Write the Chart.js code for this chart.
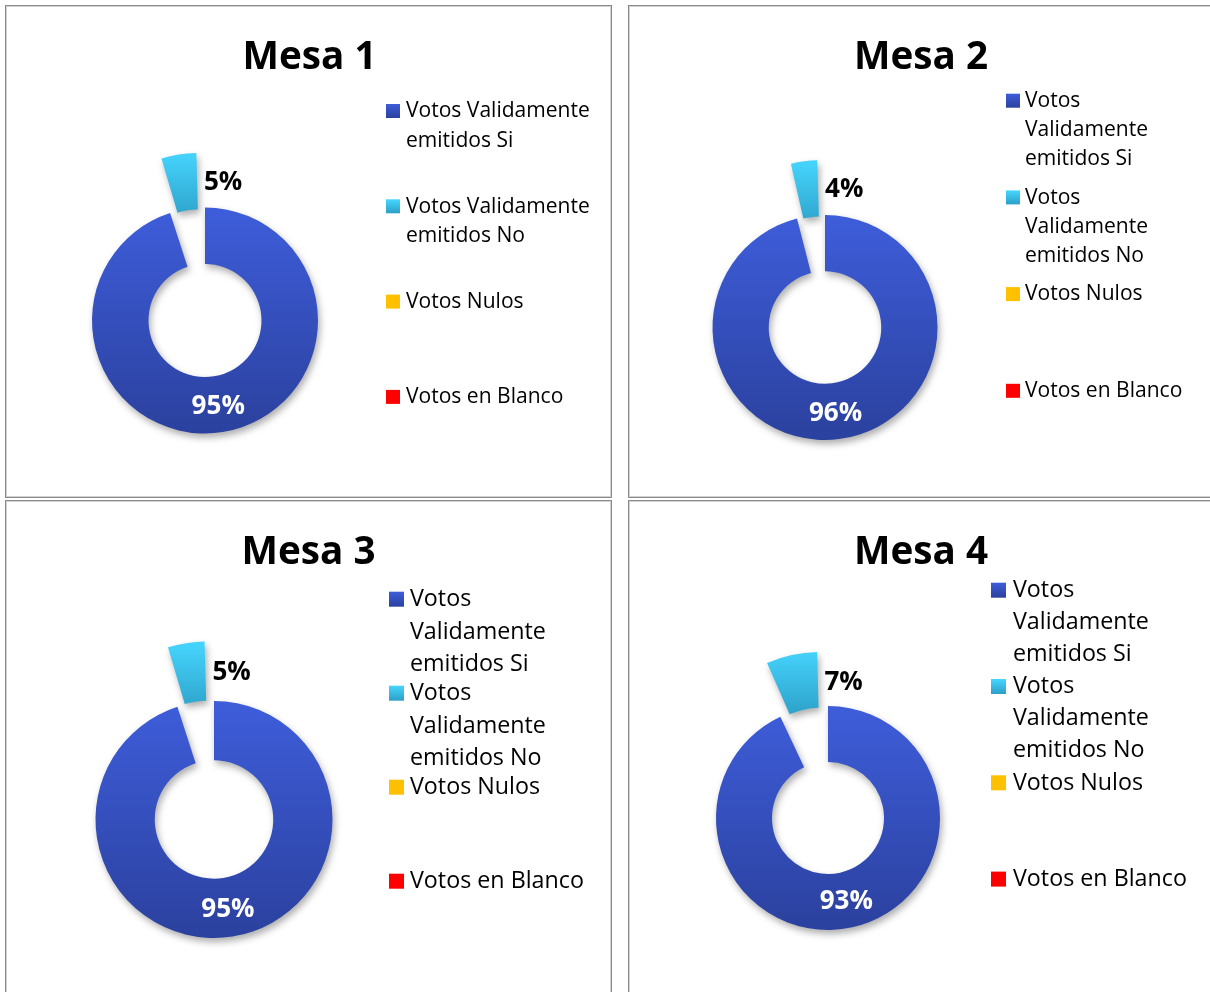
<!DOCTYPE html>
<html><head><meta charset="utf-8">
<script src="https://cdn.jsdelivr.net/npm/chart.js@4.4.1/dist/chart.umd.min.js"></script>
<style>
html,body{margin:0;padding:0;background:#fff;overflow:hidden}
#page{position:relative;width:1210px;height:992px;overflow:hidden;background:#fff}
.panel{position:absolute;box-sizing:border-box;border:1px solid #8a8a8a;box-shadow:inset 0 0 0 1px #d2d2d2;background:#fff}
canvas{position:absolute}
</style></head><body><div id="page"></div>
<script>
// ---- data ----
const categories = ['Votos Validamente emitidos Si', 'Votos Validamente emitidos No', 'Votos Nulos', 'Votos en Blanco'];
const titles = ['Mesa 1', 'Mesa 2', 'Mesa 3', 'Mesa 4'];
const mesa1 = [95, 5, 0, 0];
const mesa2 = [96, 4, 0, 0];
const mesa3 = [95, 5, 0, 0];
const mesa4 = [93, 7, 0, 0];
const seriesValues = [mesa1, mesa2, mesa3, mesa4];
const explodedIndex = 1;

// ---- styling / layout (page coordinates) ----
const FONT = "'Open Sans', 'Noto Sans', sans-serif";
const sliceColors = [
  ['#3E5DDA', '#2B419E'],
  ['#46D6FF', '#2C9FC7'],
  ['#FFC000', '#FFC000'],
  ['#FF0000', '#FF0000']
];
const panels = [
  {box: [5, 5, 607, 493], cx: 205, cy: 320.5, R: 113, D: 55, title: [309.5, 54.5],
   lg: {textX: 406, base: 117.3, step: 95.3, lh: 29.3, wrap: 200, fitW: 123, mk: 14, mkGap: 20}},
  {box: [628, 5, 600, 493], cx: 825, cy: 327.5, R: 112.5, D: 55, title: [921, 54.5],
   lg: {textX: 1025, base: 107, step: 96.7, lh: 29, wrap: 170, fitW: 123, mk: 14, mkGap: 19}},
  {box: [5, 500, 607, 520], cx: 214, cy: 819.5, R: 118.5, D: 60, title: [308.5, 549.5],
   lg: {textX: 410, base: 606, step: 94, lh: 32.5, wrap: 188, fitW: 136, mk: 15, mkGap: 21}},
  {box: [628, 500, 600, 520], cx: 828, cy: 818, R: 112, D: 55, title: [921, 549.5],
   lg: {textX: 1013, base: 597, step: 96.3, lh: 32, wrap: 188, fitW: 136, mk: 15, mkGap: 22}}
];
const TITLE_W = 134;     // width of "Mesa 1"
const PCT_W = 53.3;      // width of "95%"

function fitPx(ctx, text, weight, target) {
  ctx.font = weight + ' 100px ' + FONT;
  return 100 * target / ctx.measureText(text).width;
}
function wrapText(ctx, text, maxW) {
  const words = text.split(' ');
  const lines = [];
  let cur = '';
  for (const w of words) {
    const test = cur ? cur + ' ' + w : w;
    if (cur && ctx.measureText(test).width > maxW) { lines.push(cur); cur = w; }
    else cur = test;
  }
  if (cur) lines.push(cur);
  return lines;
}

const page = document.getElementById('page');

panels.forEach((p, k) => {
  const [bx, by, bw, bh] = p.box;
  const div = document.createElement('div');
  div.className = 'panel';
  div.style.left = bx + 'px'; div.style.top = by + 'px';
  div.style.width = bw + 'px'; div.style.height = bh + 'px';
  page.appendChild(div);

  const cv = document.createElement('canvas');
  cv.width = bw; cv.height = bh;
  cv.style.left = bx + 'px'; cv.style.top = by + 'px';
  page.appendChild(cv);

  const lx = p.cx - bx, ly = p.cy - by;
  const h = Math.min(lx, bw - lx, ly, bh - ly) - 1;
  const values = seriesValues[k];
  const total = values.reduce((a, b) => a + b, 0);

  const fillFor = (c) => {
    const chart = c.chart, i = c.dataIndex;
    const cols = sliceColors[i];
    if (!chart.chartArea || cols[0] === cols[1]) return cols[0];
    const ctx = chart.ctx;
    let y0, y1;
    if (i === explodedIndex) {
      y0 = ly - p.R - 25; y1 = ly - p.R * 0.5 - 10;
    } else {
      y0 = ly - p.R; y1 = ly + p.R;
    }
    const g = ctx.createLinearGradient(0, y0, 0, y1);
    g.addColorStop(0, cols[0]); g.addColorStop(1, cols[1]);
    return g;
  };

  const decor = {
    id: 'decor' + k,
    beforeDatasetsDraw(chart) {
      const ctx = chart.ctx;
      ctx.save();
      ctx.shadowColor = 'rgba(0,0,0,0.32)';
      ctx.shadowBlur = 7;
      ctx.shadowOffsetX = 2;
      ctx.shadowOffsetY = 4;
    },
    afterDatasetsDraw(chart) {
      const ctx = chart.ctx;
      ctx.restore();
      const meta = chart.getDatasetMeta(0);
      const data = chart.data.datasets[0].data;
      const tot = data.reduce((a, b) => a + b, 0);
      const px = fitPx(ctx, '95%', 'bold', PCT_W);
      ctx.save();
      ctx.font = 'bold ' + px + 'px ' + FONT;
      const digitH = ctx.measureText('0').actualBoundingBoxAscent;
      meta.data.forEach((el, i) => {
        if (!data[i]) return;
        const pr = el.getProps(['x', 'y', 'startAngle', 'endAngle', 'innerRadius', 'outerRadius']);
        const half = (pr.startAngle + pr.endAngle) / 2;
        const rm = (pr.innerRadius + pr.outerRadius) / 2;
        const label = Math.round(data[i] / tot * 100) + '%';
        const off = el.options.offset || 0;
        if (off > 0) {
          const t = off / 4;
          const fix = 1 - Math.sin(Math.min(Math.PI, pr.endAngle - pr.startAngle));
          const dd = t * (1 + fix);
          const xL = pr.x + t * Math.cos(half) + 4;
          const yc = pr.y + Math.sin(half) * (rm + dd) - 2;
          ctx.fillStyle = '#000';
          ctx.textAlign = 'left';
          ctx.textBaseline = 'alphabetic';
          ctx.fillText(label, xL, yc + digitH / 2);
        } else {
          const xc = pr.x + Math.cos(half) * rm;
          const yc = pr.y + Math.sin(half) * rm;
          ctx.fillStyle = '#fff';
          ctx.textAlign = 'center';
          ctx.textBaseline = 'alphabetic';
          ctx.fillText(label, xc, yc + digitH / 2);
        }
      });
      ctx.restore();
    },
    afterDraw(chart) {
      const ctx = chart.ctx;
      ctx.save();
      // title
      const tpx = fitPx(ctx, titles[0], 'bold', TITLE_W);
      ctx.font = 'bold ' + tpx + 'px ' + FONT;
      const capH = ctx.measureText('M').actualBoundingBoxAscent;
      ctx.fillStyle = '#000';
      ctx.textAlign = 'center';
      ctx.textBaseline = 'alphabetic';
      ctx.fillText(titles[k], p.title[0] - bx, p.title[1] - by + capH / 2);
      // legend
      const lg = p.lg;
      const lpx = fitPx(ctx, 'Validamente', 'normal', lg.fitW);
      ctx.font = lpx + 'px ' + FONT;
      ctx.textAlign = 'left';
      chart.data.labels.forEach((lab, i) => {
        const base = lg.base + i * lg.step - by;
        const lines = wrapText(ctx, lab, lg.wrap);
        lines.forEach((ln, j) => {
          ctx.fillStyle = '#000';
          ctx.fillText(ln, lg.textX - bx, base + j * lg.lh);
        });
        const mx = lg.textX - bx - lg.mkGap;
        const my = base + 0.7 - lg.mk;
        const cols = sliceColors[i];
        const g = ctx.createLinearGradient(0, my, 0, my + lg.mk);
        g.addColorStop(0, cols[0]); g.addColorStop(1, cols[1]);
        ctx.fillStyle = g;
        ctx.fillRect(mx, my, lg.mk, lg.mk);
      });
      ctx.restore();
    }
  };

  new Chart(cv, {
    type: 'doughnut',
    data: {
      labels: categories,
      datasets: [{
        label: titles[k],
        data: values,
        backgroundColor: fillFor,
        borderWidth: 0,
        hoverOffset: 0,
        clip: false,
        offset: (c) => {
          if (c.dataIndex !== explodedIndex) return 0;
          const v = c.dataset.data[c.dataIndex];
          const circ = 2 * Math.PI * v / total;
          const fix = 1 - Math.sin(Math.min(Math.PI, circ));
          return 4 * p.D / (1 + fix);
        }
      }]
    },
    options: {
      responsive: false,
      animation: false,
      events: [],
      radius: p.R,
      cutout: '50%',
      layout: {padding: {left: lx - h, right: bw - lx - h, top: ly - h, bottom: bh - ly - h}},
      plugins: {legend: {display: false}, title: {display: false}, tooltip: {enabled: false}}
    },
    plugins: [decor]
  });
});
</script>
</body></html>
